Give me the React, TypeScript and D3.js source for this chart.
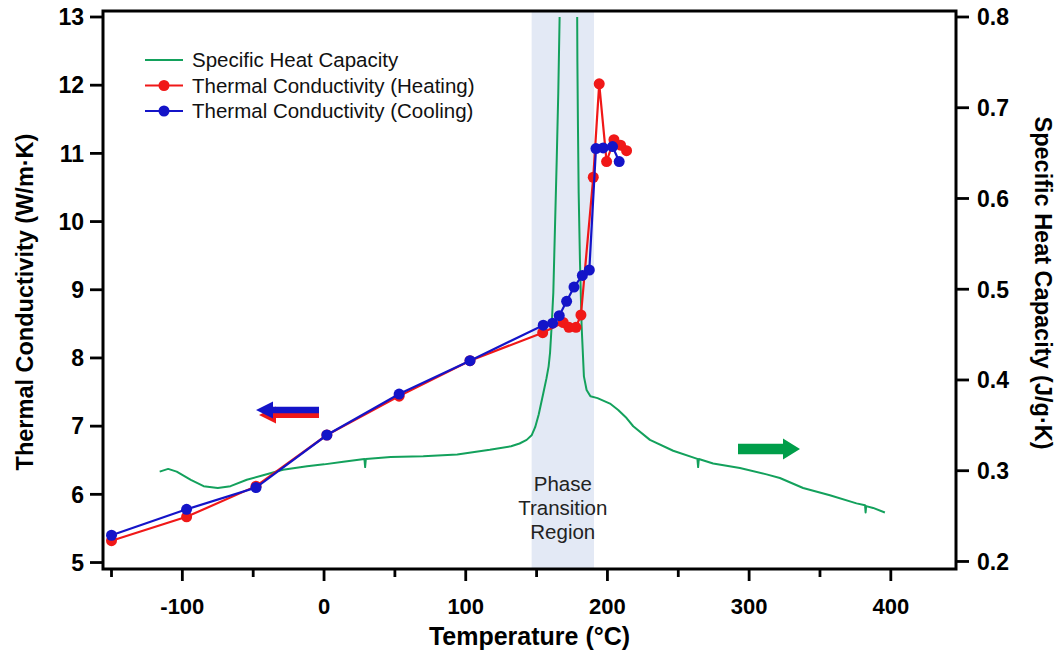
import React from "react";
import * as d3 from "d3";

const W = 1062;
const H = 654;
const PLOT = { left: 103, right: 956, top: 11, bottom: 569 };

// Thermal conductivity (W/m·K)
const heatTemp = [-150, -97, -48, 2, 53, 103, 154.3, 168.8, 172.8, 177.8, 181.3, 190, 194.2, 199.4, 204.6, 209.3, 213.5];
const heatK = [5.32, 5.67, 6.12, 6.87, 7.44, 7.96, 8.37, 8.52, 8.45, 8.45, 8.63, 10.65, 12.02, 10.88, 11.2, 11.12, 11.04];
const coolTemp = [-150, -97, -48, 2, 53, 103, 154.7, 161.3, 166, 171.2, 176.4, 182.3, 187.2, 191.9, 197, 203.6, 208.3];
const coolK = [5.4, 5.78, 6.1, 6.87, 7.47, 7.96, 8.48, 8.51, 8.62, 8.83, 9.04, 9.21, 9.29, 11.07, 11.08, 11.1, 10.88];

// Specific heat capacity (J/g·K)
const cpTemp = [
  -116, -110, -104, -94, -85, -75, -66, -54.5, -43, -29, -12, 0, 13.6, 28.5, 29, 29.5, 47, 70, 94, 117, 132, 138,
  143, 146.5, 149, 151.5, 154.7, 157, 158.5, 159.5, 160.6, 161.8, 163, 164.2, 165.3, 166.6, 172, 178.5, 178.8,
  179.2, 179.7, 180.6, 181.8, 183.4, 185.3, 188, 193, 201.8, 207.6, 213.5, 218.2, 230, 246.4, 263.5, 264, 264.5,
  274.6, 293.5, 312.3, 321.7, 338.1, 357, 375.8, 381.8, 382.2, 382.6, 387.5, 395.8,
];
const cpValue = [
  0.299, 0.302, 0.299, 0.29, 0.283, 0.281, 0.283, 0.29, 0.295, 0.301, 0.305, 0.307, 0.31, 0.313, 0.304, 0.313, 0.315,
  0.316, 0.318, 0.323, 0.327, 0.33, 0.334, 0.339, 0.348, 0.362, 0.385, 0.402, 0.415, 0.43, 0.459, 0.496, 0.569, 0.642,
  0.716, 0.83, 1.3, 0.85, 0.75, 0.679, 0.606, 0.532, 0.459, 0.404, 0.389, 0.382, 0.38, 0.374, 0.367, 0.358, 0.349,
  0.334, 0.322, 0.313, 0.304, 0.313, 0.308, 0.303, 0.296, 0.292, 0.281, 0.273, 0.264, 0.262, 0.254, 0.261, 0.259,
  0.254,
];

const xMajorTicks = [-100, 0, 100, 200, 300, 400];
const xMinorTicks = [-150, -50, 50, 150, 250, 350];
const yLeftTicks = [5, 6, 7, 8, 9, 10, 11, 12, 13];
const yRightTicks = [0.2, 0.3, 0.4, 0.5, 0.6, 0.7, 0.8];
const phaseRegion = [146.5, 190.5];

const legendItems = [
  { label: "Specific Heat Capacity", color: "#13A15C", marker: false },
  { label: "Thermal Conductivity (Heating)", color: "#F01818", marker: true },
  { label: "Thermal Conductivity (Cooling)", color: "#1414C8", marker: true },
];

const GREEN = "#13A15C";
const RED = "#F01818";
const BLUE = "#1414C8";
const FONT = "'Liberation Sans', Arial, Helvetica, sans-serif";

export default function App() {
  const x = d3.scaleLinear().domain([-156, 446]).range([PLOT.left, PLOT.right]);
  const yL = d3.scaleLinear().domain([4.905, 13.088]).range([PLOT.bottom, PLOT.top]);
  const yR = d3.scaleLinear().domain([0.1917, 0.8066]).range([PLOT.bottom, PLOT.top]);

  const heat = heatTemp.map((t, i) => [t, heatK[i]] as [number, number]);
  const cool = coolTemp.map((t, i) => [t, coolK[i]] as [number, number]);
  const cp = cpTemp.map((t, i) => [t, cpValue[i]] as [number, number]);

  const kLine = d3
    .line<[number, number]>()
    .x((d) => x(d[0]))
    .y((d) => yL(d[1]));
  const cpLine = d3
    .line<[number, number]>()
    .x((d) => x(d[0]))
    .y((d) => yR(d[1]));

  const clipTop = yR(0.8);

  const leftArrow = (tipX: number, cy: number, baseX: number, endX: number, headH: number, shaftH: number) =>
    `M${tipX},${cy} L${baseX},${cy - headH} L${baseX},${cy - shaftH} L${endX},${cy - shaftH} L${endX},${cy + shaftH} L${baseX},${cy + shaftH} L${baseX},${cy + headH} Z`;
  const rightArrow = (startX: number, cy: number, baseX: number, tipX: number, headH: number, shaftH: number) =>
    `M${tipX},${cy} L${baseX},${cy - headH} L${baseX},${cy - shaftH} L${startX},${cy - shaftH} L${startX},${cy + shaftH} L${baseX},${cy + shaftH} L${baseX},${cy + headH} Z`;

  const midX = x((phaseRegion[0] + phaseRegion[1]) / 2);

  return (
    <svg
      width={W}
      height={H}
      style={{ position: "absolute", left: 0, top: 0, background: "#fff" }}
      fontFamily={FONT}
    >
      <defs>
        <clipPath id="cpClip">
          <rect x={PLOT.left} y={clipTop} width={PLOT.right - PLOT.left} height={PLOT.bottom - clipTop} />
        </clipPath>
      </defs>

      {/* phase transition region */}
      <rect
        x={x(phaseRegion[0])}
        y={PLOT.top}
        width={x(phaseRegion[1]) - x(phaseRegion[0])}
        height={PLOT.bottom - PLOT.top}
        fill="#E3E9F5"
      />
      <text textAnchor="middle" fontSize={20.5} fill="#222">
        <tspan x={midX} y={491}>Phase</tspan>
        <tspan x={midX} y={515}>Transition</tspan>
        <tspan x={midX} y={539}>Region</tspan>
      </text>

      {/* specific heat */}
      <path d={cpLine(cp) || ""} fill="none" stroke={GREEN} strokeWidth={2} clipPath="url(#cpClip)" strokeLinejoin="round" />

      {/* conductivity heating */}
      <path d={kLine(heat) || ""} fill="none" stroke={RED} strokeWidth={2.2} />
      {heat.map((d, i) => (
        <circle key={"h" + i} cx={x(d[0])} cy={yL(d[1])} r={5.5} fill={RED} />
      ))}
      {/* conductivity cooling */}
      <path d={kLine(cool) || ""} fill="none" stroke={BLUE} strokeWidth={2.2} />
      {cool.map((d, i) => (
        <circle key={"c" + i} cx={x(d[0])} cy={yL(d[1])} r={5.5} fill={BLUE} />
      ))}

      {/* arrows */}
      <path d={leftArrow(259, 415, 276, 319, 8.5, 3)} fill={RED} />
      <path d={leftArrow(256, 410, 273, 319, 8.5, 3.2)} fill={BLUE} />
      <path d={rightArrow(738, 449, 783, 800, 10.5, 5.3)} fill="#009E4A" />

      {/* frame */}
      <rect
        x={PLOT.left}
        y={PLOT.top}
        width={PLOT.right - PLOT.left}
        height={PLOT.bottom - PLOT.top}
        fill="none"
        stroke="#000"
        strokeWidth={3}
      />

      {/* x ticks */}
      {xMajorTicks.map((t) => (
        <g key={"xm" + t}>
          <line x1={x(t)} x2={x(t)} y1={PLOT.bottom} y2={PLOT.bottom + 12} stroke="#000" strokeWidth={2.8} />
          <text x={x(t)} y={614} textAnchor="middle" fontSize={22} fontWeight="bold">
            {t}
          </text>
        </g>
      ))}
      {xMinorTicks.map((t) => (
        <line key={"xn" + t} x1={x(t)} x2={x(t)} y1={PLOT.bottom} y2={PLOT.bottom + 8} stroke="#000" strokeWidth={2.8} />
      ))}

      {/* left ticks */}
      {yLeftTicks.map((t) => (
        <g key={"yl" + t}>
          <line x1={PLOT.left - 13} x2={PLOT.left} y1={yL(t)} y2={yL(t)} stroke="#000" strokeWidth={2.8} />
          <text x={PLOT.left - 19} y={yL(t)} dy="0.36em" textAnchor="end" fontSize={23} fontWeight="bold">
            {t}
          </text>
        </g>
      ))}

      {/* right ticks */}
      {yRightTicks.map((t) => (
        <g key={"yr" + t}>
          <line x1={PLOT.right} x2={PLOT.right + 13} y1={yR(t)} y2={yR(t)} stroke="#000" strokeWidth={2.8} />
          <text x={PLOT.right + 21} y={yR(t)} dy="0.36em" textAnchor="start" fontSize={23} fontWeight="bold">
            {t.toFixed(1)}
          </text>
        </g>
      ))}

      {/* axis titles */}
      <text x={(PLOT.left + PLOT.right) / 2} y={645} textAnchor="middle" fontSize={25} fontWeight="bold">
        Temperature (°C)
      </text>
      <text
        transform={`translate(33, 302) rotate(-90)`}
        textAnchor="middle"
        fontSize={23.5}
        fontWeight="bold"
      >
        Thermal Conductivity (W/m·K)
      </text>
      <text
        transform={`translate(1035, 283) rotate(90)`}
        textAnchor="middle"
        fontSize={23.5}
        fontWeight="bold"
      >
        Specific Heat Capacity (J/g·K)
      </text>

      {/* legend */}
      {legendItems.map((item, i) => {
        const ly = 60 + i * 25.5;
        return (
          <g key={"lg" + i}>
            <line x1={145} x2={183} y1={ly} y2={ly} stroke={item.color} strokeWidth={2.2} />
            {item.marker && <circle cx={164} cy={ly} r={5.5} fill={item.color} />}
            <text x={192} y={ly} dy="0.35em" fontSize={20.5} fill="#111">
              {item.label}
            </text>
          </g>
        );
      })}
    </svg>
  );
}
